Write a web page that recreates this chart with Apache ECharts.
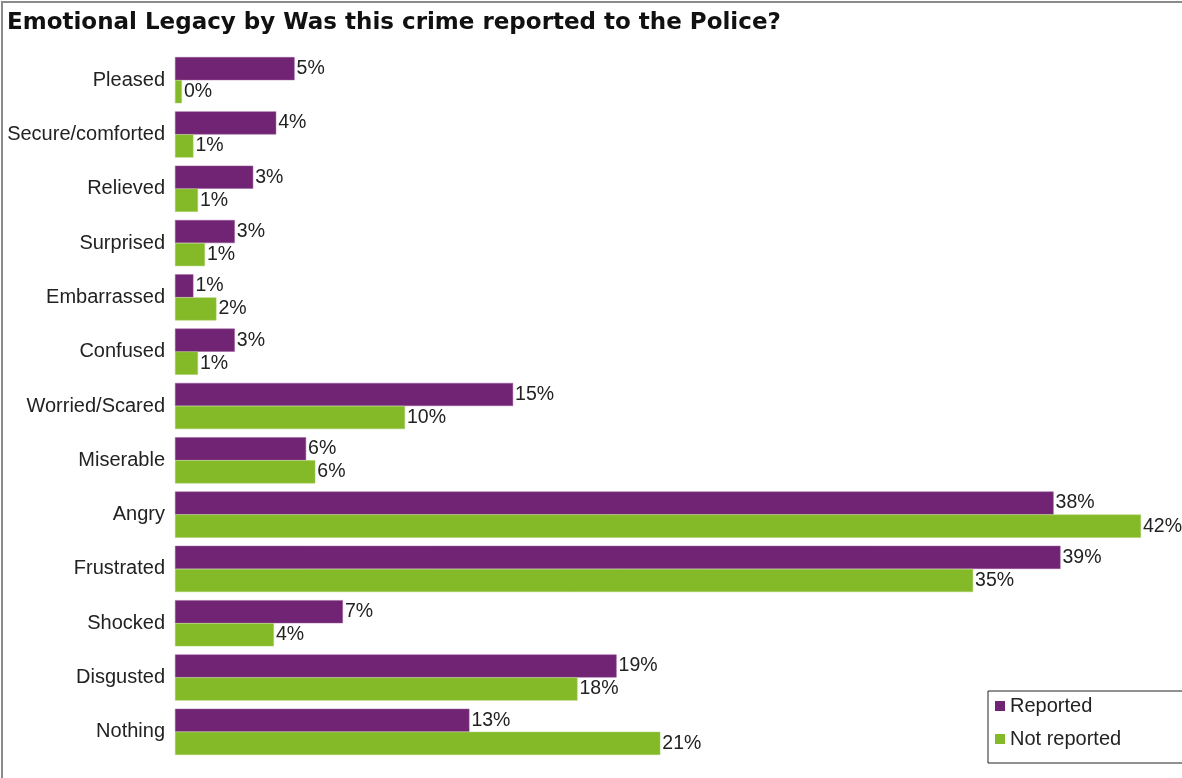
<!DOCTYPE html>
<html>
<head>
<meta charset="utf-8">
<script src="https://cdn.jsdelivr.net/npm/echarts@6/dist/echarts.min.js"></script>
<style>
  html, body { margin: 0; padding: 0; background: #fff; }
  #chart { width: 1182px; height: 778px; }
</style>
</head>
<body>
<div id="chart"></div>
<script>
// Emotions, listed top to bottom
const categories = [
  'Pleased', 'Secure/comforted', 'Relieved', 'Surprised', 'Embarrassed',
  'Confused', 'Worried/Scared', 'Miserable', 'Angry', 'Frustrated',
  'Shocked', 'Disgusted', 'Nothing'
];
// Share of respondents (%) feeling each emotion
const reported    = [5.2, 4.4, 3.4, 2.6, 0.8, 2.6, 14.7, 5.7, 38.2, 38.5, 7.3, 19.2, 12.8];
const notReported = [0.3, 0.8, 1.0, 1.3, 1.8, 1.0, 10.0, 6.1, 42.0, 34.7, 4.3, 17.5, 21.1];
const seriesNames = ['Reported', 'Not reported'];

const chart = echarts.init(document.getElementById('chart'), null, { renderer: 'canvas' });

const font = 'Arial, "Liberation Sans", sans-serif';
const textColor = '#222';
const labelStyle = {
  show: true,
  position: 'right',
  distance: 2,
  fontFamily: font,
  fontSize: 19.5,
  color: textColor,
  formatter: p => Math.round(p.value) + '%'
};

chart.setOption({
  animation: false,
  backgroundColor: '#fff',
  title: {
    text: 'Emotional Legacy by Was this crime reported to the Police?',
    left: 7,
    top: 12,
    padding: 0,
    textStyle: { fontFamily: '"DejaVu Sans", sans-serif', fontSize: 23, fontWeight: 'bold', color: '#111' }
  },
  legend: {
    orient: 'vertical',
    left: 988,
    top: 691,
    padding: [5, 120, 14, 7],
    itemGap: 13,
    itemWidth: 10,
    itemHeight: 10,
    borderColor: '#222',
    borderWidth: 1,
    icon: 'rect',
    itemStyle: { borderWidth: 0 },
    textStyle: { fontFamily: font, fontSize: 20, color: textColor },
    data: seriesNames
  },
  grid: { left: 175, top: 53, width: 989, height: 706, containLabel: false },
  xAxis: {
    type: 'value',
    min: 0,
    max: 43,
    show: false
  },
  yAxis: {
    type: 'category',
    data: categories,
    inverse: true,
    axisLine: { show: false },
    axisTick: { show: false },
    axisLabel: { fontFamily: font, fontSize: 20, color: textColor, margin: 10 }
  },
  series: [
    {
      name: seriesNames[0],
      type: 'bar',
      data: reported,
      barGap: '0%',
      barCategoryGap: '15%',
      itemStyle: { color: '#702473', borderColor: '#9a5a9c', borderWidth: 0.5 },
      label: labelStyle
    },
    {
      name: seriesNames[1],
      type: 'bar',
      data: notReported,
      barGap: '0%',
      barCategoryGap: '15%',
      itemStyle: { color: '#84b928', borderColor: '#a6cf60', borderWidth: 0.5 },
      label: labelStyle
    }
  ],
  graphic: [
    {
      type: 'polyline',
      shape: { points: [[2, 778], [2, 2], [1182, 2]] },
      style: { stroke: '#8a8a8a', lineWidth: 2, fill: null },
      silent: true
    }
  ]
});
</script>
</body>
</html>
